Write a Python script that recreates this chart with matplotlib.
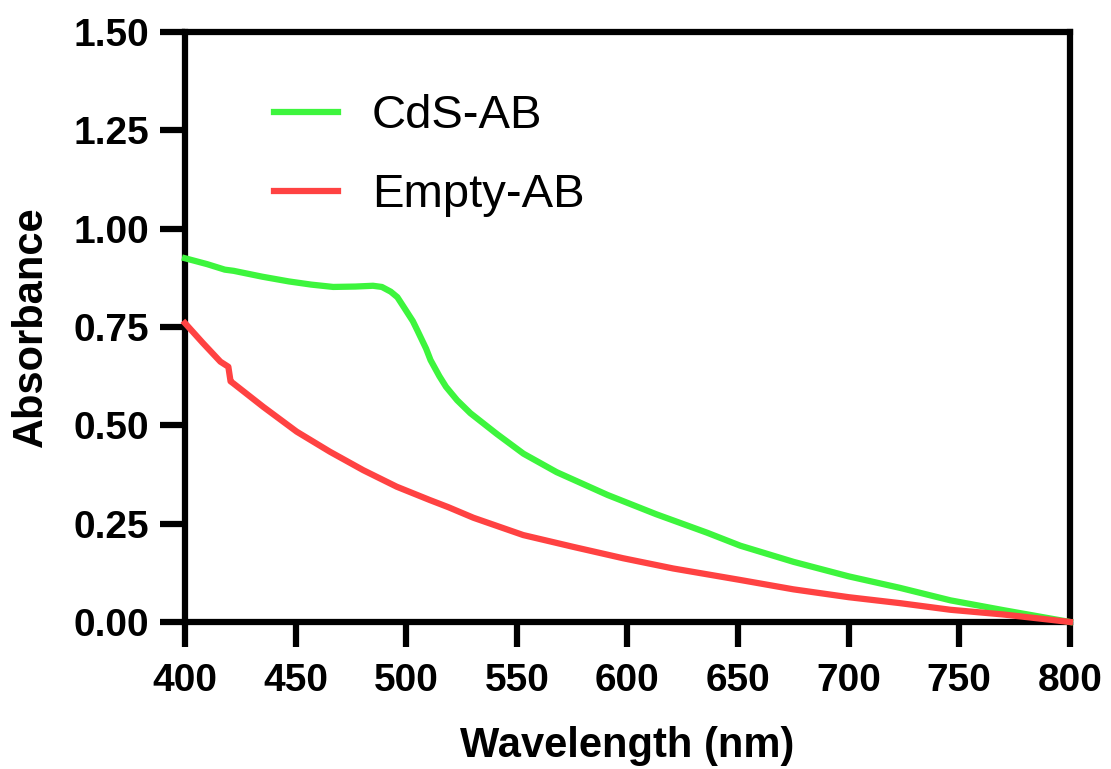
import matplotlib
matplotlib.use("Agg")
import matplotlib.pyplot as plt

# Data
wl_cds = [400, 410, 418, 422, 435, 447, 457, 467, 477, 485, 489, 493, 496, 499, 503, 505, 509, 511, 515, 518, 523, 529, 541, 553, 568, 591, 613, 636, 651, 675, 700, 723, 746, 770, 800]
abs_cds = [0.925, 0.91, 0.896, 0.893, 0.878, 0.866, 0.858, 0.852, 0.853, 0.855, 0.852, 0.84, 0.826, 0.80, 0.765, 0.742, 0.695, 0.666, 0.625, 0.598, 0.564, 0.531, 0.478, 0.428, 0.381, 0.323, 0.274, 0.227, 0.194, 0.153, 0.116, 0.087, 0.055, 0.03, 0.0]

wl_empty = [400, 408, 416, 419.6, 420.6, 421.8, 435.4, 450.5, 465.5, 480.6, 495.7, 510.7, 519, 530.4, 552.9, 575.5, 598.1, 620.7, 650.8, 675, 700, 723, 746, 770, 800]
abs_empty = [0.76, 0.71, 0.662, 0.649, 0.612, 0.607, 0.547, 0.484, 0.433, 0.386, 0.344, 0.310, 0.292, 0.265, 0.221, 0.191, 0.162, 0.136, 0.107, 0.083, 0.063, 0.048, 0.031, 0.019, 0.0]

xticks = [400, 450, 500, 550, 600, 650, 700, 750, 800]
yticks = [0.00, 0.25, 0.50, 0.75, 1.00, 1.25, 1.50]

plt.rcParams['font.family'] = ['Liberation Sans', 'DejaVu Sans']

fig = plt.figure(figsize=(11.11, 7.69), dpi=100)
ax = fig.add_axes([0.1665, 0.1912, 0.7965, 0.767])

ax.plot(wl_cds, abs_cds, color='#3df53d', lw=4.5, label='CdS-AB', clip_on=False, zorder=5)
ax.plot(wl_empty, abs_empty, color='#ff4242', lw=4.5, label='Empty-AB', clip_on=False, zorder=6)

ax.set_xlim(400, 800)
ax.set_ylim(0, 1.5)
ax.set_xticks(xticks)
ax.set_yticks(yticks)
ax.set_xticklabels([str(v) for v in xticks])
ax.set_yticklabels([f"{v:.2f}" for v in yticks])

for s in ax.spines.values():
    s.set_linewidth(4.5)
    s.set_color('black')
ax.tick_params(axis='both', which='major', direction='out', length=18, width=4.5,
               labelsize=28)
ax.tick_params(axis='x', pad=11.5)
ax.tick_params(axis='y', pad=8)
for lab in ax.get_xticklabels() + ax.get_yticklabels():
    lab.set_fontweight('bold')

ax.set_xlabel('Wavelength (nm)', fontsize=30, fontweight='bold')
ax.set_ylabel('Absorbance', fontsize=30, fontweight='bold')
ax.xaxis.set_label_coords(0.5, -0.177)
ax.yaxis.set_label_coords(-0.152, 0.5)

leg = ax.legend(loc='upper left', bbox_to_anchor=(0.1006, 0.895), frameon=False,
                fontsize=34, handlelength=1.35, handletextpad=0.72, labelspacing=0.75,
                borderaxespad=0, borderpad=0)
for h in leg.get_lines():
    h.set_linewidth(4.5)

fig.savefig('out.png', dpi=100)
